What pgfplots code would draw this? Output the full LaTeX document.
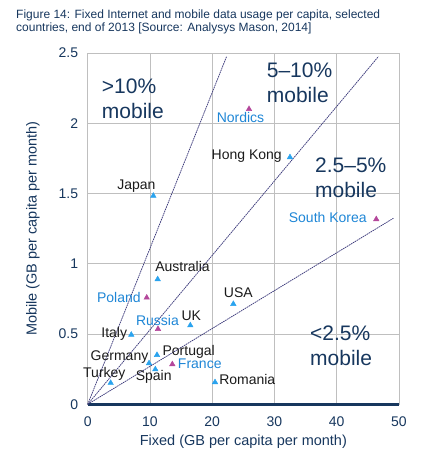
\documentclass[border=0pt]{standalone}
\usepackage{fontspec}
\setmainfont{Liberation Sans}
\usepackage{pgfplots}
\pgfplotsset{compat=1.18}
\definecolor{navy}{HTML}{17375E}
\definecolor{ptblue}{HTML}{2AA3EE}
\definecolor{ptpink}{HTML}{B4479B}
\definecolor{lblblue}{HTML}{1E86D6}
\definecolor{dline}{HTML}{3E3C7C}
\definecolor{gridgray}{HTML}{BFBFBF}
\definecolor{lbldark}{HTML}{1A1A1A}
\begin{document}
\begin{tikzpicture}
\useasboundingbox (0,0) rectangle (432pt,461pt);
\node[anchor=base west, text=navy, font=\fontsize{12}{13.5}\selectfont, inner sep=0pt] at (16pt,442.7pt) {Figure 14: Fixed Internet and mobile data usage per capita, selected};
\node[anchor=base west, text=navy, font=\fontsize{12}{13.5}\selectfont, inner sep=0pt] at (16pt,429.3pt) {countries, end of 2013 [Source: Analysys Mason, 2014]};
\begin{axis}[
  at={(87.7pt,56.7pt)}, anchor=south west,
  scale only axis, width=311.3pt, height=351.3pt,
  xmin=0, xmax=50, ymin=0, ymax=2.5,
  xtick={0,10,20,30,40,50}, ytick={0,0.5,1,1.5,2,2.5},
  yticklabels={0,0.5,1,1.5,2,2.5},
  grid=major, grid style={gridgray, line width=0.8pt},
  axis line style={gridgray, line width=0.8pt},
  tick style={draw=none},
  ticklabel style={font=\fontsize{14}{16}\selectfont, text=navy},
  xticklabel style={yshift=-9pt},
  yticklabel style={xshift=-6pt},
  /pgf/number format/assume math mode=true,
  xlabel={Fixed (GB per capita per month)},
  ylabel={Mobile (GB per capita per month)},
  label style={font=\fontsize{14.5}{17}\selectfont, text=navy},
  xlabel style={at={(axis description cs:0.5,-0.1065)}, anchor=center},
  ylabel style={at={(axis description cs:-0.176,0.5)}, anchor=center},
  clip=false,
]
\draw[navy, line width=3pt] (axis cs:0,0) -- (axis cs:50,0);
\addplot[dline, line width=0.75pt, dash pattern=on 1.6pt off 0.7pt] coordinates {(0,0) (22.3,2.474)};
\addplot[dline, line width=0.75pt, dash pattern=on 1.6pt off 0.7pt] coordinates {(0,0) (46.68,2.474)};
\addplot[dline, line width=0.75pt, dash pattern=on 1.6pt off 0.7pt] coordinates {(0,0) (49.1,1.324)};
% blue markers
\addplot[only marks, mark=triangle*, mark size=3.2pt, color=ptblue] coordinates {
(11.24,0.890) (23.39,0.714) (16.48,0.562) (7.00,0.495) (11.13,0.351)
(9.85,0.292) (10.86,0.249) (3.69,0.152) (20.45,0.157) (32.49,1.758) (10.54,1.484)};
% pink markers
\addplot[only marks, mark=triangle*, mark size=3.2pt, color=ptpink] coordinates {
(9.48,0.759) (11.29,0.536) (13.59,0.285) (25.91,2.101) (46.35,1.317)};
% country labels
\begin{scope}[every node/.style={font=\fontsize{14}{16}\selectfont, inner sep=0pt, anchor=center}]
\node[text=lbldark] at (axis cs:15.23,0.979) {Australia};
\node[text=lblblue] at (axis cs:5.00,0.761) {Poland};
\node[text=lbldark] at (axis cs:24.19,0.793) {USA};
\node[text=lblblue] at (axis cs:11.21,0.598) {Russia};
\node[text=lbldark] at (axis cs:16.64,0.633) {UK};
\node[text=lbldark] at (axis cs:4.26,0.500) {Italy};
\node[text=lbldark] at (axis cs:16.22,0.372) {Portugal};
\node[text=lbldark] at (axis cs:5.11,0.333) {Germany};
\node[text=lblblue] at (axis cs:18.0,0.287) {France};
\node[text=lbldark] at (axis cs:10.60,0.196) {Spain};
\node[text=lbldark] at (axis cs:2.67,0.218) {Turkey};
\node[text=lbldark] at (axis cs:25.63,0.179) {Romania};
\node[text=lblblue] at (axis cs:24.54,2.039) {Nordics};
\node[text=lbldark] at (axis cs:25.54,1.768) {Hong Kong};
\node[text=lbldark] at (axis cs:7.81,1.549) {Japan};
\node[text=lblblue] at (axis cs:38.56,1.326) {South Korea};
\end{scope}
% region annotations
\begin{scope}[every node/.style={font=\fontsize{21}{25}\selectfont, inner sep=0pt, anchor=west, align=left, text=navy}]
\node at (axis cs:2.25,2.171) {>10\%\\mobile};
\node at (axis cs:28.75,2.290) {5–10\%\\mobile};
\node at (axis cs:36.5,1.614) {2.5–5\%\\mobile};
\node at (axis cs:35.7,0.416) {<2.5\%\\mobile};
\end{scope}
\end{axis}
\end{tikzpicture}
\end{document}
